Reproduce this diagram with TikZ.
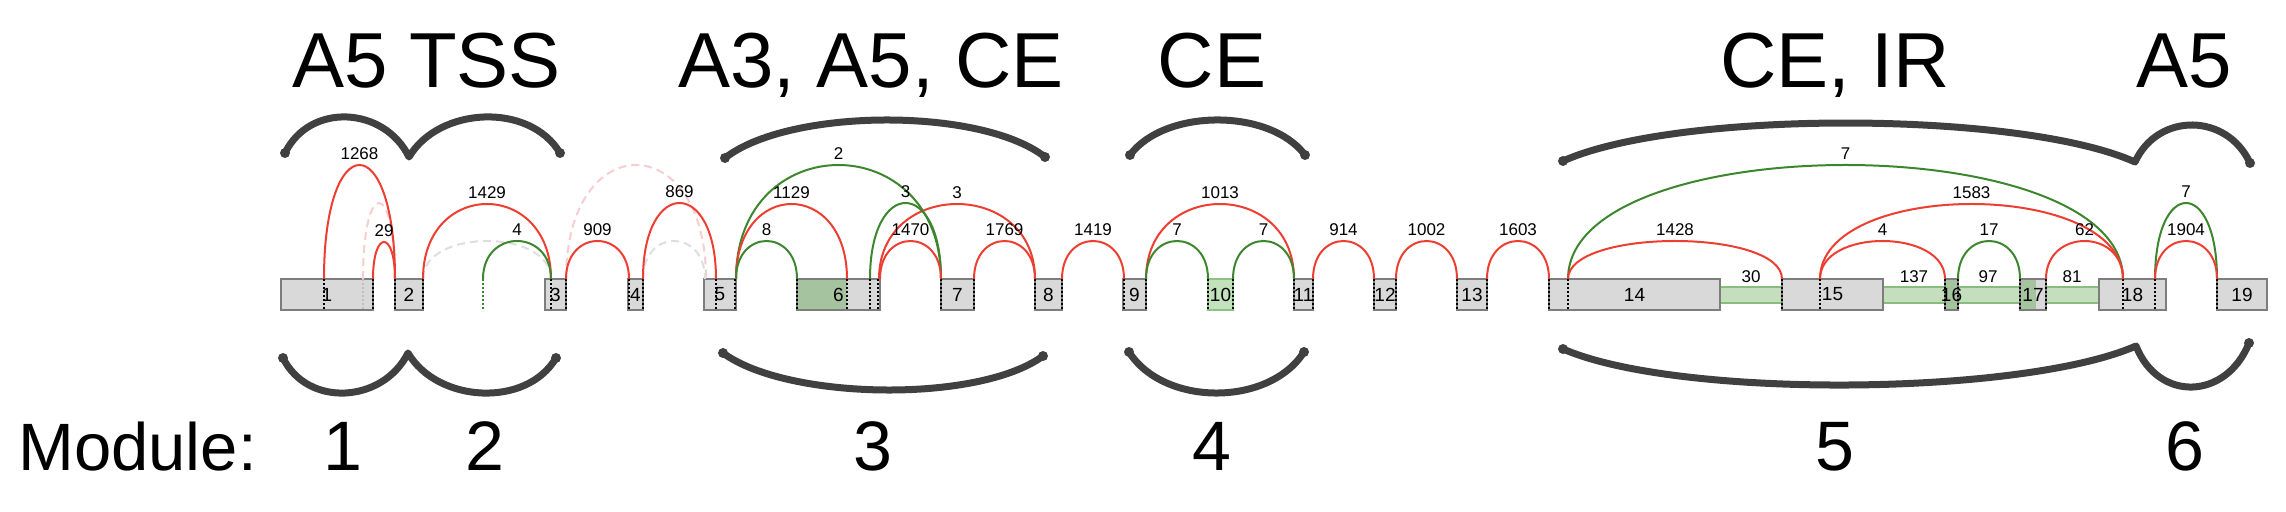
\documentclass[tikz,border=0pt]{standalone}
\usepackage{fontspec}
\setmainfont{Liberation Sans}
\definecolor{jred}{RGB}{237,62,50}
\definecolor{jgreen}{RGB}{60,135,45}
\definecolor{pinkd}{RGB}{247,205,205}
\definecolor{greyd}{RGB}{222,222,222}
\definecolor{exonfill}{RGB}{217,217,217}
\definecolor{exonline}{RGB}{125,125,125}
\definecolor{greensix}{RGB}{165,195,158}
\definecolor{lgreen}{RGB}{195,225,188}
\definecolor{greenline}{RGB}{140,195,128}
\definecolor{bandfill}{RGB}{196,222,190}
\definecolor{bandline}{RGB}{135,190,125}
\definecolor{brc}{RGB}{64,64,64}
\newcommand\exon[5][]{\node[exon,#1,minimum width={(#4-#3)*0.5pt}] (#2) at ({(#3+#4)/2},294.5) {\makebox[0pt]{#5}};}
\newcommand\jn[5]{\draw[#1] (p#2) .. controls +(0,{-4/3*#4}) and +(0,{-4/3*#4}) .. (p#3) node[arclab,pos=0.5,yshift=5.5pt] {#5};}
\newcommand\jd[4]{\draw[#1] (p#2) .. controls +(0,{-4/3*#4}) and +(0,{-4/3*#4}) .. (p#3);}
\begin{document}
\begin{tikzpicture}[x=0.5pt,y=-0.5pt,
  exon/.style={draw=exonline, fill=exonfill, line width=0.75pt, inner sep=0pt, outer sep=0pt, minimum height=15.5pt, font=\fontsize{9.5}{10}\selectfont},
  splice/.style={line width=1pt, dash pattern=on 1pt off 1pt, black},
  jr/.style={draw=jred, line width=1pt},
  jg/.style={draw=jgreen, line width=1pt},
  jp/.style={draw=pinkd, line width=1pt, dash pattern=on 4pt off 2.5pt},
  jy/.style={draw=greyd, line width=1pt, dash pattern=on 4pt off 2.5pt},
  arclab/.style={font=\fontsize{8.5}{9}\selectfont, inner sep=0pt, text=black},
  band/.style={fill=bandfill, draw=bandline, line width=0.75pt},
  brace/.style={draw=brc, line width=3.5pt, line cap=round, line join=round},
  toplab/.style={font=\fontsize{39}{44}\selectfont, anchor=base, inner sep=0pt},
  modlab/.style={font=\fontsize{33.5}{38}\selectfont, anchor=base west, inner sep=0pt},
  numlab/.style={font=\fontsize{35}{40}\selectfont, anchor=base, inner sep=0pt}]
\useasboundingbox (0,0) rectangle (2286,512);
% intron-retention bands
\foreach \a/\b in {1720/1782,1883/1945,1958/2020,2046/2099} \draw[band] (\a,287) rectangle (\b,303);
% exons
\exon{e1}{281}{373}{1}
\exon{e2}{395}{423}{2}
\exon{e3}{545}{566}{3}
\exon{e4}{628}{643}{4}
\exon{e5}{704}{736}{5}
\exon[path picture={\fill[greensix] (path picture bounding box.south west) rectangle ([xshift=25pt]path picture bounding box.north west);}]{e6}{797}{880}{6}
\exon{e7}{941}{974}{7}
\exon{e8}{1035}{1062}{8}
\exon{e9}{1123}{1146}{9}
\exon[fill=lgreen,draw=greenline]{e10}{1208}{1233}{10}
\exon{e11}{1294}{1313}{11}
\exon{e12}{1374}{1396}{12}
\exon{e13}{1457}{1487}{13}
\exon{e14}{1549}{1720}{14}
\exon{e15}{1782}{1883}{15}
\exon[fill=greensix]{e16}{1945}{1958}{16}
\exon[path picture={\fill[greensix] (path picture bounding box.south west) rectangle ([xshift=8pt]path picture bounding box.north west);}]{e17}{2020}{2046}{17}
\exon{e18}{2099}{2166}{18}
\exon{e19}{2217}{2267}{19}
% band labels
\node[arclab] (b30) at (1751,277) {30};
\node[arclab] (b137) at (1914,277) {137};
\node[arclab] (b97) at (1988,277) {97};
\node[arclab] (b81) at (2072,277) {81};
% splice-site marks
\foreach \x in {324,373,395,423,551,566,629,643,716,735,797,847,870,878,941,974,1035,1062,1124,1146,1208,1233,1294,1313,1374,1396,1457,1487,1549,1568,1782,1820,1945,1958,2020,2046,2123,2155,2217}
  \draw[splice] (\x,279) -- (\x,310);
\draw[splice,draw=black!25] (363,279) -- (363,310);
\draw[splice,draw=jgreen] (483,279) -- (483,310);
% splice-site coordinates
\foreach \x in {324,363,373,395,423,483,551,566,629,643,705,706,716,736,797,847,870,879,880,941,974,1035,1062,1124,1146,1208,1233,1294,1313,1374,1396,1457,1487,1549,1568,1782,1820,1945,1958,2020,2046,2123,2155,2217}
  \coordinate (p\x) at (\x,279);
% faint dashed junctions
\jd{jp}{363}{395}{76}
\jd{jy}{423}{551}{38}
\jd{jp}{566}{706}{114}
\jd{jy}{643}{705}{38}
% junctions
\jn{jr}{324}{395}{114}{1268}
\jn{jr}{373}{395}{37}{29}
\jn{jr}{423}{551}{75}{1429}
\jn{jg}{483}{551}{38}{4}
\jn{jr}{566}{629}{38}{909}
\jn{jr}{643}{716}{76}{869}
\jn{jg}{736}{941}{114}{2}
\jn{jr}{736}{847}{75}{1129}
\jn{jg}{736}{797}{38}{8}
\jn{jr}{879}{1035}{75}{3}
\jn{jg}{870}{941}{76}{3}
\jn{jr}{880}{941}{38}{1470}
\jn{jr}{974}{1035}{38}{1769}
\jn{jr}{1062}{1124}{38}{1419}
\jn{jr}{1146}{1294}{75}{1013}
\jn{jg}{1146}{1208}{38}{7}
\jn{jg}{1233}{1294}{38}{7}
\jn{jr}{1313}{1374}{38}{914}
\jn{jr}{1396}{1457}{38}{1002}
\jn{jr}{1487}{1549}{38}{1603}
\jn{jg}{1568}{2123}{114}{7}
\jn{jr}{1568}{1782}{38}{1428}
\jn{jr}{1820}{2123}{75}{1583}
\jn{jr}{1820}{1945}{38}{4}
\jn{jg}{1958}{2020}{38}{17}
\jn{jr}{2046}{2123}{38}{62}
\jn{jg}{2155}{2217}{76}{7}
\jn{jr}{2155}{2217}{38}{1904}
% top braces
\draw[brace] (285,153) .. controls (309.8,102.3) and (384.2,106.3) .. (409,157)
                       .. controls (439.2,106.3) and (529.8,102.3) .. (560,153);
\draw[brace] (725,158) .. controls (789,108) and (981,107) .. (1045,157);
\draw[brace] (1130,155) .. controls (1165,108.3) and (1270,108.3) .. (1305,155);
\draw[brace] (1563,161) .. controls (1677.4,109.7) and (2020.6,110.7) .. (2135,162)
                        .. controls (2158,112) and (2227,113) .. (2250,163);
% bottom braces
\draw[brace] (283,358) .. controls (308,408) and (383,403) .. (408,353)
                       .. controls (437.6,403) and (526.4,408) .. (556,358);
\draw[brace] (723,353) .. controls (787,400.3) and (979,403.3) .. (1043,356);
\draw[brace] (1129,352) .. controls (1164,406.7) and (1269,406.7) .. (1304,352);
\draw[brace] (1563,349) .. controls (1677.6,399) and (2021.4,396) .. (2136,346)
                        .. controls (2158.6,402.7) and (2226.4,399.7) .. (2249,343);
% brace end blobs
\foreach \p in {(285,153),(560,153),(725,158),(1045,157),(1130,155),(1305,155),(1563,161),(2250,163),
                (283,358),(556,358),(723,353),(1043,356),(1129,352),(1304,352),(1563,349),(2249,343)}
  \fill[brc] \p circle[radius=5];
% top labels
\node[toplab] (tA) at (426.5,87.5) {A5 TSS};
\node[toplab] (tB) at (871,87.5) {A3, A5, CE};
\node[toplab] (tC) at (1212,87.5) {CE};
\node[toplab] (tD) at (1835,87.5) {CE, IR};
\node[toplab] (tE) at (2184,87.5) {A5};
% module labels
\node[modlab] (mod) at (18,470.7) {Module:};
\node[numlab] (m1) at (343,470.5) {1};
\node[numlab] (m2) at (485,470.5) {2};
\node[numlab] (m3) at (873,470.5) {3};
\node[numlab] (m4) at (1212,470.5) {4};
\node[numlab] (m5) at (1835,470.5) {5};
\node[numlab] (m6) at (2185,470.5) {6};
\end{tikzpicture}
\end{document}
